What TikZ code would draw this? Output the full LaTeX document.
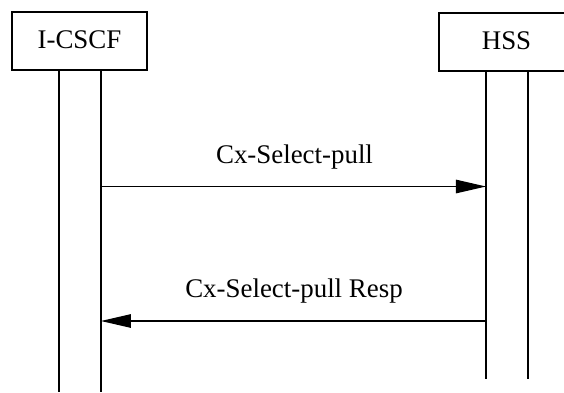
\documentclass[tikz,border=0pt]{standalone}
\usepackage{fontspec}
\setmainfont{Liberation Serif}
\usetikzlibrary{arrows.meta}
\begin{document}
\begin{tikzpicture}[x=1bp,y=-1bp,
  entity/.style={draw, line width=1.1bp, minimum width=135bp, minimum height=58bp,
    inner sep=0pt, text height=18bp, text depth=4bp,
    font=\fontsize{27}{30}\selectfont},
  lifeline/.style={line width=1.1bp},
  msg/.style={line width=1.2bp, -{Triangle[length=30bp,width=13.5bp]}},
  msglabel/.style={font=\fontsize{27}{30}\selectfont, anchor=base, inner sep=0pt}]
\useasboundingbox (0,0) rectangle (564,392);
\clip (0,0) rectangle (564,392);

% participants
\node[entity] (icscf) at (79.5,41) {I-CSCF};
\node[entity] (hss) at (506.5,42) {HSS};

% lifelines (two rails per participant)
\coordinate (ia) at ([xshift=47.5bp]icscf.south west);
\coordinate (ib) at ([xshift=89.5bp]icscf.south west);
\coordinate (ha) at ([xshift=47.5bp]hss.south west);
\coordinate (hb) at ([xshift=89.5bp]hss.south west);
\coordinate (iaEnd) at (ia |- 0,392);
\coordinate (ibEnd) at (ib |- 0,392);
\coordinate (haEnd) at (ha |- 0,379);
\coordinate (hbEnd) at (hb |- 0,379);
\draw[lifeline] (ia) -- (iaEnd);
\draw[lifeline] (ib) -- (ibEnd);
\draw[lifeline] (ha) -- (haEnd);
\draw[lifeline] (hb) -- (hbEnd);

% messages
\coordinate (reqS) at (ib |- 0,186.5);
\coordinate (reqE) at (ha |- 0,186.5);
\coordinate (rspS) at (ha |- 0,321);
\coordinate (rspE) at (ib |- 0,321);
\draw[msg] (reqS) -- (reqE);
\draw[msg] (rspS) -- (rspE);

\node[msglabel] (reqL) at (294.5,163) {Cx-Select-pull};
\node[msglabel] (rspL) at (294,297) {Cx-Select-pull Resp};
\end{tikzpicture}
\end{document}
